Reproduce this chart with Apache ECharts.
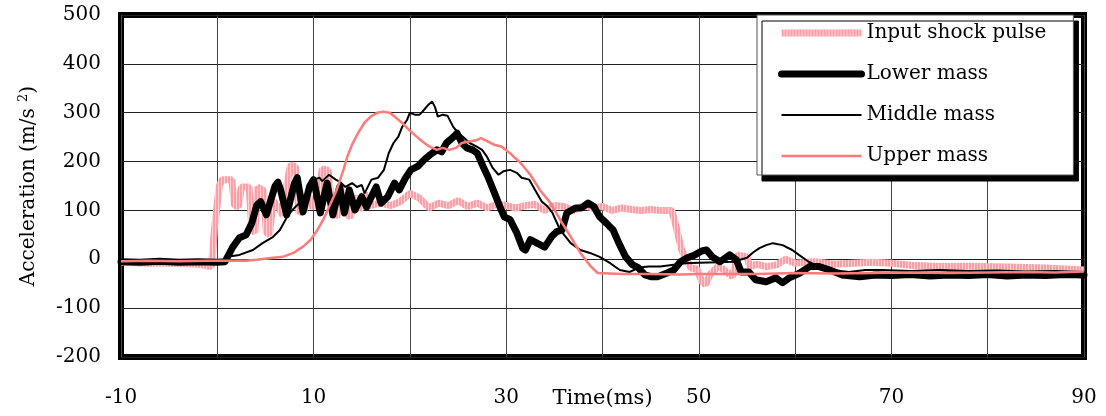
<!DOCTYPE html>
<html>
<head>
<meta charset="utf-8">
<script src="https://cdn.jsdelivr.net/npm/echarts@6/dist/echarts.min.js"></script>
<style>
html,body{margin:0;padding:0;background:#fff;}
#c{width:1106px;height:416px;}
</style>
</head>
<body>
<div id="c"></div>
<script>
// ---- data (time in ms, acceleration in m/s^2) ----
const seriesNames = ['Input shock pulse', 'Lower mass', 'Middle mass', 'Upper mass'];

const pulseT = [-10,-7,-4,-2,-1,-0.6,-0.3,0.2,0.5,1.5,1.8,2.2,2.5,3.3,3.6,3.9,4.2,4.8,5.1,5.4,5.8,6.3,6.8,7.2,7.6,8.1,8.5,9.0,9.5,9.9,10.4,10.9,11.5,11.9,12.4,12.8,13.3,13.8,14.3,14.8,15.3,15.8,17,18,19,20,21,22,23,24,25,26,27,28,29,30,31,32,33,34,35,36,37,38,39,40,41,42,43,44,45,46,47.2,47.6,48.2,48.7,49.2,49.8,50.3,50.7,51.2,52,52.5,53.5,54,55,55.3,56,57,58,59,60,62,64,66,68,70,72,75,78,82,86,90];
const pulseA = [-6,-8,-8,-10,-14,-14,60,150,163,163,110,108,148,148,60,55,148,140,55,50,120,108,90,150,193,190,95,100,130,105,120,185,182,110,85,150,100,85,130,100,135,110,115,110,118,135,125,105,115,110,120,108,115,105,112,110,105,110,112,100,110,108,100,110,105,108,100,105,102,100,102,100,100,70,20,0,-18,-20,-45,-52,-30,-15,-20,-36,9,5,-15,-10,-15,-12,0,-8,-5,-10,-8,-6,-8,-12,-15,-14,-16,-18,-22];

const lowerT = [-10,-8,-6,-4,-2,0,0.8,1.2,1.6,2.3,3.0,3.6,4.1,4.5,5.1,6.0,6.3,6.6,7.2,8.0,8.3,8.9,9.6,10.0,10.7,11.4,12.0,12.7,13.2,13.7,14.3,15.0,15.5,16.0,16.5,17.0,17.7,18.4,18.9,19.5,20.1,20.8,21.5,22.1,22.8,23.3,23.8,24.5,24.9,25.4,25.9,26.5,27.0,27.6,28.1,28.8,29.4,29.8,30.4,31.1,31.7,32.0,32.5,33.5,34.0,34.7,35.2,35.8,36.3,37.2,37.8,38.5,39.1,39.7,40.4,41.1,41.7,42.4,43.1,43.7,44.4,45.1,45.7,46.7,47.4,48.1,48.8,49.5,50.3,50.8,51.4,52.2,53.2,53.9,54.4,55.2,55.9,57.0,58.0,58.7,59.4,60.5,61.5,62.5,63.6,64.9,66.7,68.4,70,72,74,76,78,80,82,84,86,88,90];
const lowerA = [-5,-6,-4,-6,-5,-6,-5,10,25,44,50,75,111,118,91,150,158,140,91,155,167,97,150,163,95,156,91,148,95,142,101,128,107,128,148,115,128,156,142,165,183,190,204,214,224,220,238,250,258,238,228,224,217,190,169,135,105,87,81,54,23,19,40,30,25,46,56,60,95,105,105,115,108,87,74,60,33,5,-11,-17,-32,-36,-36,-28,-22,-5,3,8,17,19,5,-5,9,-1,-26,-26,-42,-46,-38,-48,-38,-28,-15,-15,-22,-32,-36,-32,-33,-31,-34,-32,-33,-31,-34,-32,-33,-31,-32];

const middleT = [-10,-6,-2,0,0.8,1.0,2.3,3.7,4.7,5.8,6.5,7.2,7.8,8.5,9.3,9.8,10.1,10.6,10.9,11.6,12.3,12.7,13.3,14.0,14.5,15.0,15.3,16.0,16.7,17.3,17.8,18.3,18.8,19.2,19.7,20.0,20.5,21.0,21.3,21.9,22.3,22.6,22.9,23.4,23.9,24.5,25.0,25.5,26.2,26.9,27.5,28.0,28.6,29.2,29.7,30.4,31.1,31.6,32.4,33.0,33.7,34.3,34.8,35.6,36.7,37.7,38.7,39.7,40.8,41.8,42.8,43.8,44.8,46,47.4,48.6,50,52,53.6,55,55.7,56.3,57.0,57.7,58.7,59.7,60.4,61.4,62.5,63.9,65.6,67.3,69,72,75,78,81,84,87,90];
const middleA = [-8,-7,-7,-6,-4,5,9,19,33,46,60,85,101,115,135,148,163,167,160,173,163,159,148,156,148,152,135,163,167,183,217,238,251,271,285,300,296,296,302,316,323,312,292,296,294,271,259,251,238,231,224,210,187,173,180,183,177,167,163,142,118,108,95,60,33,19,13,5,-8,-22,-26,-17,-15,-15,-11,-8,-7,-6,-5,3,15,23,29,33,29,19,9,-5,-15,-22,-26,-22,-22,-24,-22,-24,-23,-25,-24,-26];

const upperT = [-10,-7,-4,-1,1,3,4.1,5.8,6.8,7.9,8.9,9.7,10.4,11.0,11.7,12.4,13.1,13.5,14.0,14.6,15.3,16.0,16.6,17.2,17.9,18.6,19.2,19.9,20.7,21.3,22.0,22.8,23.4,24.1,24.8,25.4,26.1,26.8,27.4,28.1,28.8,29.5,30.4,31.5,32.5,33.5,34.6,35.6,36.7,37.7,38.8,39.5,42,45,48,50,53,56,60,64,68,72,76,80,84,87,90];
const upperA = [-4,-3,-4,-3,-3,-3,-1,3,5,13,26,40,60,81,111,142,183,210,235,258,280,293,300,302,300,289,279,265,251,241,231,224,228,224,228,238,241,243,248,241,234,231,217,197,173,142,115,81,46,13,-15,-28,-30,-30,-31,-30,-30,-30,-28,-29,-28,-27,-28,-27,-26,-27,-25];

const xTicks = [-10, 10, 30, 50, 70, 90];
const yTicks = [-200, -100, 0, 100, 200, 300, 400, 500];

const zip = (t, a) => t.map((v, i) => [v, a[i]]);

// hatched pink stroke for the input pulse
const hatch = document.createElement('canvas');
hatch.width = 3; hatch.height = 3;
(function () {
  const g = hatch.getContext('2d');
  g.fillStyle = '#ffd4d6'; g.fillRect(0, 0, 3, 3);
  g.fillStyle = '#ff9ea5'; g.fillRect(0, 0, 2, 3);
})();
const pulseColor = {image: hatch, repeat: 'repeat'};

const FONT = 'DejaVu Serif';
const chart = echarts.init(document.getElementById('c'), null, {renderer: 'canvas'});
chart.setOption({
  animation: false,
  backgroundColor: '#fff',
  grid: {
    left: 121, right: 22, top: 15, bottom: 59, outerBoundsMode: 'none', containLabel: false,
    show: true, borderColor: '#000', borderWidth: 6, backgroundColor: 'transparent'
  },
  xAxis: {
    type: 'value', min: -10, max: 90, interval: 10,
    name: 'Time(ms)', nameLocation: 'middle', nameGap: 31, nameMoveOverlap: false,
    nameTextStyle: {fontFamily: FONT, fontSize: 21, color: '#000'},
    axisLine: {show: false}, axisTick: {show: false},
    axisLabel: {
      margin: 31, fontFamily: FONT, fontSize: 20, color: '#000',
      formatter: v => (xTicks.indexOf(Math.round(v)) >= 0 ? String(Math.round(v)) : '')
    },
    splitLine: {show: true, lineStyle: {color: '#444', width: 1}}
  },
  yAxis: {
    type: 'value', min: -200, max: 500, interval: 100,
    name: '{a|Acceleration (m/s }{s|2}{a|)}', nameLocation: 'middle', nameGap: 80, nameMoveOverlap: false,
    nameTextStyle: {
      color: '#000',
      rich: {
        a: {fontFamily: FONT, fontSize: 20, color: '#000', lineHeight: 24},
        s: {fontFamily: FONT, fontSize: 13, color: '#000', lineHeight: 14, verticalAlign: 'top'}
      }
    },
    axisLine: {show: false}, axisTick: {show: false},
    axisLabel: {
      margin: 20, fontFamily: FONT, fontSize: 20, color: '#000',
      formatter: v => (yTicks.indexOf(Math.round(v)) >= 0 ? String(Math.round(v)) : '')
    },
    splitLine: {show: true, lineStyle: {color: '#222', width: 1}}
  },
  legend: {
    orient: 'vertical', left: 757, top: 15,
    padding: [8, 27, 9, 21], itemGap: 21, itemWidth: 80, itemHeight: 14,
    backgroundColor: '#fff', borderColor: '#555', borderWidth: 1,
    shadowColor: '#000', shadowBlur: 0, shadowOffsetX: 5, shadowOffsetY: 6,
    itemStyle: {opacity: 0},
    lineStyle: {width: 'inherit'},
    textStyle: {fontFamily: FONT, fontSize: 20, color: '#000'},
    data: seriesNames
  },
  series: [
    {name: seriesNames[0], type: 'line', symbol: 'none', data: zip(pulseT, pulseA),
     lineStyle: {color: pulseColor, width: 7}, itemStyle: {color: '#ffb4b8'}, z: 2},
    {name: seriesNames[1], type: 'line', symbol: 'none', data: zip(lowerT, lowerA),
     lineStyle: {color: '#000', width: 7, cap: 'round', join: 'round'}, itemStyle: {color: '#000'}, z: 3},
    {name: seriesNames[2], type: 'line', symbol: 'none', data: zip(middleT, middleA),
     lineStyle: {color: '#000', width: 2}, itemStyle: {color: '#000'}, z: 4},
    {name: seriesNames[3], type: 'line', symbol: 'none', data: zip(upperT, upperA),
     lineStyle: {color: '#ff7a7a', width: 2.5}, itemStyle: {color: '#ff7a7a'}, z: 5}
  ]
});
</script>
</body>
</html>
